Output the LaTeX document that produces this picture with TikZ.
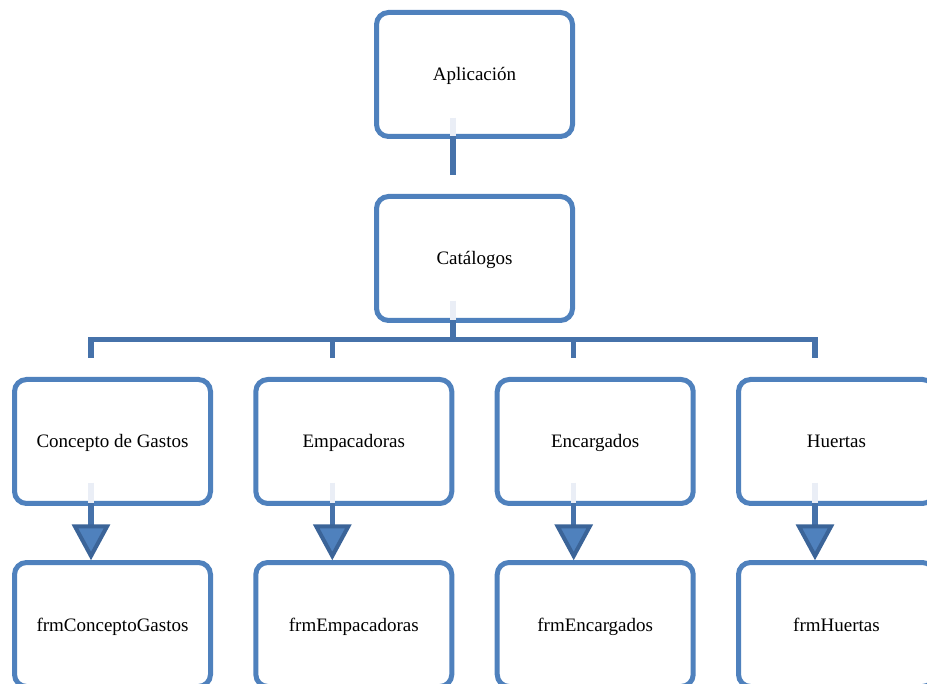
\documentclass[tikz,border=0pt]{standalone}
\usepackage{fontspec}
\setmainfont{Liberation Serif}
\usetikzlibrary{calc}
\definecolor{boxblue}{HTML}{4F81BD}
\definecolor{connblue}{HTML}{4672AA}
\definecolor{arrdark}{HTML}{3B6498}
\definecolor{fadecol}{HTML}{EAEEF6}
\begin{document}
\begin{tikzpicture}[x=1pt,y=-1pt,
  box/.style={draw=boxblue, line width=5pt, rounded corners=12pt, minimum width=196pt, minimum height=124pt, outer sep=0pt, inner sep=0pt, fill=white, text height=15pt, text depth=2pt, font=\fontsize{19}{22}\selectfont},
  conn/.style={draw=connblue, line width=5.5pt},
  fadeline/.style={draw=fadecol, line width=5.5pt},
  tri/.style={draw=arrdark, fill=boxblue, line width=4pt, line join=miter}]
\useasboundingbox (0,0) rectangle (927,684);
\clip (0,0) rectangle (927,684);
\node[box] (app) at (474.5,74.5) {Aplicación};
\node[box] (cat) at (474.5,258.5) {Catálogos};
\node[box] (c1) at (112.5,441.5) {Concepto de Gastos};
\node[box] (c2) at (353.8,441.5) {Empacadoras};
\node[box] (c3) at (595.2,441.5) {Encargados};
\node[box] (c4) at (836.5,441.5) {Huertas};
\node[box] (f1) at (112.5,624.5) {frmConceptoGastos};
\node[box] (f2) at (353.8,624.5) {frmEmpacadoras};
\node[box] (f3) at (595.2,624.5) {frmEncargados};
\node[box] (f4) at (836.5,624.5) {frmHuertas};
% Aplicacion -> Catalogos
\coordinate (a0) at ($(app.south)+(-21.5,-18.5)$);
\coordinate (a1) at ($(app.south)+(-21.5,0)$);
\coordinate (a2) at ($(app.south)+(-21.5,38.5)$);
\draw[fadeline] (a0) -- (a1);
\draw[conn] (a1) -- (a2);
% Catalogos -> row 3
\coordinate (k0) at ($(cat.south)+(-21.5,-19.5)$);
\coordinate (k1) at ($(cat.south)+(-21.5,0)$);
\coordinate (hub) at ($(cat.south)+(-21.5,19)$);
\foreach \i in {1,2,3,4}{
  \coordinate (b\i) at ($(c\i.north)+(-21.5,-21.5)$);
}
\draw[fadeline] (k0) -- (k1);
\draw[conn] (k1) -- (hub);
\draw[conn, line join=miter] (b1) |- (hub) -| (b4);
\draw[conn] (b2) -- (b2 |- hub);
\draw[conn] (b3) -- (b3 |- hub);
% row 3 -> row 4
\foreach \i in {1,2,3,4}{
  \coordinate (s\i) at ($(c\i.south)+(-21.5,-20.5)$);
  \coordinate (e\i) at ($(c\i.south)+(-21.5,0)$);
  \coordinate (t\i) at ($(c\i.south)+(-21.5,23)$);
  \coordinate (p\i) at ($(f\i.north)+(-21.5,-6.5)$);
  \draw[fadeline] (s\i) -- (e\i);
  \draw[conn] (e\i) -- (t\i);
  \draw[tri] ($(t\i)+(-16,0)$) -- ($(t\i)+(16,0)$) -- (p\i) -- cycle;
}
\end{tikzpicture}
\end{document}
